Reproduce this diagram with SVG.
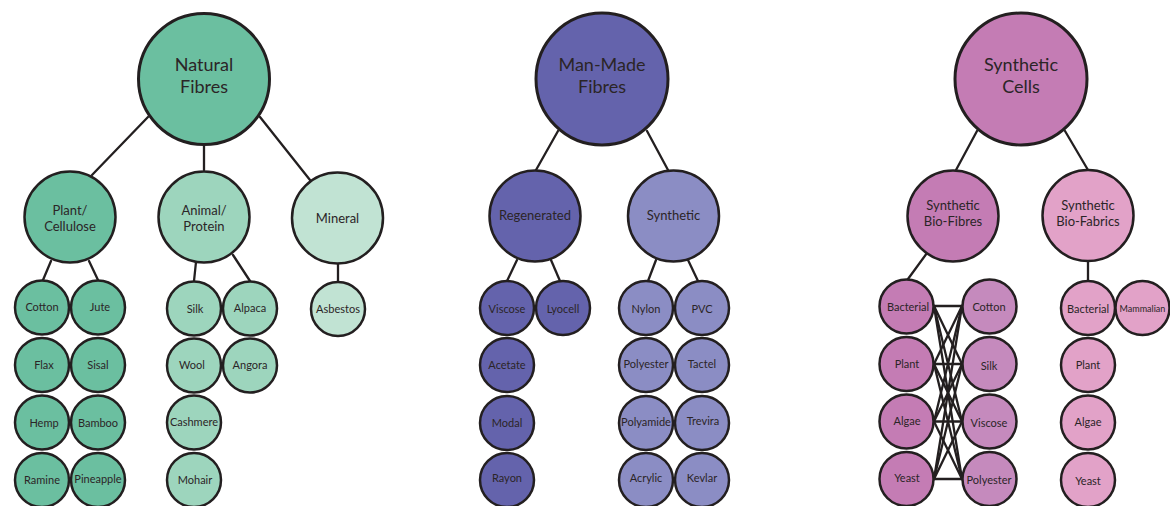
<svg xmlns="http://www.w3.org/2000/svg" width="1170" height="506" viewBox="0 0 1170 506">
<style>
.n circle{stroke:#231f20;stroke-width:2.5}
.big circle{stroke-width:3}
text{font-family:Lato,"Noto Sans","DejaVu Sans",sans-serif;fill:#2b2527;text-anchor:middle}
.big text{font-size:18px}
.mid text{font-size:13px}
.leaf text{font-size:11px}
.g1{fill:#6bbfa0}.g2{fill:#9dd5bd}.g3{fill:#c1e3d3}
.p1{fill:#6463ac}.p2{fill:#8b8dc4}
.k1{fill:#c47cb4}.k2{fill:#c58abd}.k3{fill:#e2a2c8}
#connectors line{stroke:#231f20;stroke-width:2.3;stroke-linecap:round}
</style>
<g id="connectors">
<line x1="148" y1="117" x2="92" y2="175"/>
<line x1="204" y1="146" x2="204" y2="170"/>
<line x1="260" y1="117" x2="310" y2="180"/>
<line x1="51" y1="261" x2="43" y2="280"/>
<line x1="89" y1="261" x2="98" y2="280"/>
<line x1="196" y1="262" x2="194" y2="281"/>
<line x1="233" y1="255" x2="250" y2="281"/>
<line x1="338" y1="264" x2="338" y2="281"/>
<line x1="558" y1="131" x2="536" y2="170"/>
<line x1="647" y1="131" x2="668" y2="170"/>
<line x1="517" y1="260" x2="507" y2="281"/>
<line x1="551" y1="260" x2="560" y2="281"/>
<line x1="656" y1="260" x2="648" y2="281"/>
<line x1="688" y1="260" x2="698" y2="281"/>
<line x1="977" y1="131" x2="956" y2="170"/>
<line x1="1065" y1="131" x2="1088" y2="170"/>
<line x1="927" y1="253" x2="908" y2="279"/>
<line x1="1088" y1="262" x2="1088" y2="281"/>
<line x1="934" y1="306" x2="962" y2="306"/><line x1="934" y1="306" x2="962" y2="364"/><line x1="934" y1="306" x2="962" y2="421.5"/><line x1="934" y1="306" x2="962" y2="479"/>
<line x1="934" y1="364" x2="962" y2="306"/><line x1="934" y1="364" x2="962" y2="364"/><line x1="934" y1="364" x2="962" y2="421.5"/><line x1="934" y1="364" x2="962" y2="479"/>
<line x1="934" y1="421.5" x2="962" y2="306"/><line x1="934" y1="421.5" x2="962" y2="364"/><line x1="934" y1="421.5" x2="962" y2="421.5"/><line x1="934" y1="421.5" x2="962" y2="479"/>
<line x1="934" y1="479" x2="962" y2="306"/><line x1="934" y1="479" x2="962" y2="364"/><line x1="934" y1="479" x2="962" y2="421.5"/><line x1="934" y1="479" x2="962" y2="479"/>
</g>

<g id="natural-fibres" class="n big"><circle class="g1" cx="204" cy="79" r="65.5"/><text x="204" y="71">Natural</text><text x="204" y="93">Fibres</text></g>
<g id="plant-cellulose" class="n mid"><circle class="g1" cx="70" cy="217" r="45.5"/><text x="70" y="215">Plant/</text><text x="70" y="231">Cellulose</text></g>
<g id="animal-protein" class="n mid"><circle class="g2" cx="204" cy="217" r="45.5"/><text x="204" y="215">Animal/</text><text x="204" y="231">Protein</text></g>
<g id="mineral" class="n mid"><circle class="g3" cx="337.5" cy="218" r="45.5"/><text x="337.5" y="222.5">Mineral</text></g>

<g id="cotton-n" class="n leaf"><circle class="g1" cx="42" cy="307.5" r="27"/><text x="42" y="311">Cotton</text></g>
<g id="jute" class="n leaf"><circle class="g1" cx="98" cy="307.5" r="27"/><text x="100" y="311">Jute</text></g>
<g id="flax" class="n leaf"><circle class="g1" cx="42" cy="365" r="27"/><text x="44" y="369">Flax</text></g>
<g id="sisal" class="n leaf"><circle class="g1" cx="98" cy="365" r="27"/><text x="98" y="369">Sisal</text></g>
<g id="hemp" class="n leaf"><circle class="g1" cx="42" cy="422.5" r="27"/><text x="44" y="427">Hemp</text></g>
<g id="bamboo" class="n leaf"><circle class="g1" cx="98" cy="422.5" r="27"/><text x="98" y="427">Bamboo</text></g>
<g id="ramine" class="n leaf"><circle class="g1" cx="42" cy="480" r="27"/><text x="42" y="484">Ramine</text></g>
<g id="pineapple" class="n leaf"><circle class="g1" cx="98" cy="480" r="27"/><text x="98" y="483">Pineapple</text></g>

<g id="silk-n" class="n leaf"><circle class="g2" cx="194" cy="308.5" r="27"/><text x="195" y="312.5">Silk</text></g>
<g id="alpaca" class="n leaf"><circle class="g2" cx="250" cy="308.5" r="27"/><text x="250" y="312">Alpaca</text></g>
<g id="wool" class="n leaf"><circle class="g2" cx="194" cy="365.5" r="27"/><text x="192" y="369">Wool</text></g>
<g id="angora" class="n leaf"><circle class="g2" cx="250" cy="365.5" r="27"/><text x="250" y="369">Angora</text></g>
<g id="cashmere" class="n leaf"><circle class="g2" cx="194" cy="422.5" r="27"/><text x="194" y="426">Cashmere</text></g>
<g id="mohair" class="n leaf"><circle class="g2" cx="194" cy="480" r="27"/><text x="195" y="484">Mohair</text></g>
<g id="asbestos" class="n leaf"><circle class="g3" cx="338" cy="309" r="27"/><text x="338" y="313">Asbestos</text></g>

<g id="man-made-fibres" class="n big"><circle class="p1" cx="602" cy="79" r="66"/><text x="602" y="71">Man-Made</text><text x="602" y="93">Fibres</text></g>
<g id="regenerated" class="n mid"><circle class="p1" cx="535" cy="216" r="45.5"/><text x="535" y="220">Regenerated</text></g>
<g id="synthetic" class="n mid"><circle class="p2" cx="673.5" cy="216" r="45.5"/><text x="673.5" y="220">Synthetic</text></g>

<g id="viscose-m" class="n leaf"><circle class="p1" cx="507" cy="308" r="27"/><text x="507" y="313">Viscose</text></g>
<g id="lyocell" class="n leaf"><circle class="p1" cx="563" cy="308" r="27"/><text x="563" y="313">Lyocell</text></g>
<g id="acetate" class="n leaf"><circle class="p1" cx="507" cy="365" r="27"/><text x="507" y="369">Acetate</text></g>
<g id="modal" class="n leaf"><circle class="p1" cx="507" cy="423" r="27"/><text x="507" y="427">Modal</text></g>
<g id="rayon" class="n leaf"><circle class="p1" cx="507" cy="480" r="27"/><text x="507" y="482">Rayon</text></g>
<g id="nylon" class="n leaf"><circle class="p2" cx="646" cy="308" r="27"/><text x="646" y="313">Nylon</text></g>
<g id="pvc" class="n leaf"><circle class="p2" cx="702" cy="308" r="27"/><text x="702" y="313">PVC</text></g>
<g id="polyester-m" class="n leaf"><circle class="p2" cx="646" cy="365" r="27"/><text x="646" y="368">Polyester</text></g>
<g id="tactel" class="n leaf"><circle class="p2" cx="702" cy="365" r="27"/><text x="702" y="368">Tactel</text></g>
<g id="polyamide" class="n leaf"><circle class="p2" cx="646" cy="423" r="27"/><text x="646" y="426">Polyamide</text></g>
<g id="trevira" class="n leaf"><circle class="p2" cx="702" cy="423" r="27"/><text x="703" y="425">Trevira</text></g>
<g id="acrylic" class="n leaf"><circle class="p2" cx="646" cy="480" r="27"/><text x="646" y="482">Acrylic</text></g>
<g id="kevlar" class="n leaf"><circle class="p2" cx="702" cy="480" r="27"/><text x="702" y="482">Kevlar</text></g>

<g id="synthetic-cells" class="n big"><circle class="k1" cx="1021" cy="79" r="66"/><text x="1021" y="71">Synthetic</text><text x="1021" y="93">Cells</text></g>
<g id="synthetic-bio-fibres" class="n mid"><circle class="k1" cx="953" cy="216" r="45.5"/><text x="953" y="210">Synthetic</text><text x="953" y="226">Bio-Fibres</text></g>
<g id="synthetic-bio-fabrics" class="n mid"><circle class="k3" cx="1088" cy="215.5" r="45.5"/><text x="1088" y="210">Synthetic</text><text x="1088" y="226">Bio-Fabrics</text></g>

<g id="bacterial-1" class="n leaf"><circle class="k1" cx="906.5" cy="306.5" r="27"/><text x="908" y="311">Bacterial</text></g>
<g id="plant-1" class="n leaf"><circle class="k1" cx="906.5" cy="364" r="27"/><text x="907" y="368">Plant</text></g>
<g id="algae-1" class="n leaf"><circle class="k1" cx="906.5" cy="421.5" r="27"/><text x="907" y="425">Algae</text></g>
<g id="yeast-1" class="n leaf"><circle class="k1" cx="906.5" cy="479" r="27"/><text x="907" y="482">Yeast</text></g>
<g id="cotton-s" class="n leaf"><circle class="k2" cx="989.5" cy="306.5" r="27"/><text x="989" y="311">Cotton</text></g>
<g id="silk-s" class="n leaf"><circle class="k2" cx="989.5" cy="364" r="27"/><text x="989" y="370">Silk</text></g>
<g id="viscose-s" class="n leaf"><circle class="k2" cx="989.5" cy="421.5" r="27"/><text x="989" y="427">Viscose</text></g>
<g id="polyester-s" class="n leaf"><circle class="k2" cx="989.5" cy="479" r="27"/><text x="989" y="484">Polyester</text></g>

<g id="bacterial-2" class="n leaf"><circle class="k3" cx="1088" cy="308" r="27"/><text x="1088" y="313">Bacterial</text></g>
<g id="mammalian" class="n leaf"><circle class="k3" cx="1142.5" cy="308" r="27"/><text x="1142.5" y="311.5" style="font-size:9px">Mammalian</text></g>
<g id="plant-2" class="n leaf"><circle class="k3" cx="1088" cy="365" r="27"/><text x="1088" y="369">Plant</text></g>
<g id="algae-2" class="n leaf"><circle class="k3" cx="1088" cy="422.5" r="27"/><text x="1088" y="426">Algae</text></g>
<g id="yeast-2" class="n leaf"><circle class="k3" cx="1088" cy="480" r="27"/><text x="1088" y="485">Yeast</text></g>
</svg>
